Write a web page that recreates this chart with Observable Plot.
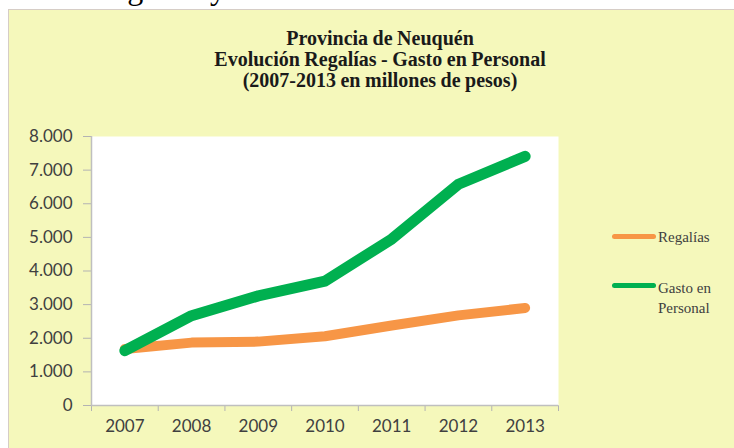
<!DOCTYPE html>
<html>
<head>
<meta charset="utf-8">
<script src="https://cdn.jsdelivr.net/npm/d3@7"></script>
<script src="https://cdn.jsdelivr.net/npm/@observablehq/plot@0.6"></script>
<style>
  html, body { margin: 0; padding: 0; background: #ffffff; width: 734px; height: 448px; overflow: hidden; position: relative; }
  #toptext { position: absolute; left: 10px; top: -28px; font: 32px "Liberation Serif", serif; line-height: 32px; color: #000; white-space: nowrap; }
  #panel { position: absolute; left: 8px; top: 9px; width: 760px; height: 480px; background: #f5f8bb; border: 1px solid #d6cdc6; box-sizing: border-box; }
  #title { position: absolute; left: 0; width: 760px; top: 28px; text-align: center; font: bold 20px "Liberation Serif", serif; line-height: 21px; color: #1a1a1a; word-spacing: -0.5px; }
  #chart { position: absolute; left: 0; top: 0; }
  #chart svg text { fill: #404040; }
  .leg { position: absolute; font: 15px "Liberation Serif", serif; color: #404040; line-height: 20px; }
  .legline { position: absolute; height: 5px; border-radius: 3px; width: 44px; }
</style>
</head>
<body>
<div id="toptext">de las Regalías y del Gasto en Personal en la Provincia</div>
<div id="panel"></div>
<div id="title">Provincia de Neuquén<br>Evolución Regalías - Gasto en Personal<br>(2007-2013 en millones de pesos)</div>
<div id="chart"></div>
<div class="legline" style="left:612px; top:234px; background:#f79646;"></div>
<div class="leg" style="left:658px; top:227px;">Regalías</div>
<div class="legline" style="left:612px; top:283px; background:#00b050;"></div>
<div class="leg" style="left:658px; top:278px;">Gasto en<br>Personal</div>
<script>
const years = [2007, 2008, 2009, 2010, 2011, 2012, 2013];
const regalias = [1680, 1870, 1900, 2060, 2380, 2680, 2900];
const gastoPersonal = [1630, 2670, 3260, 3700, 4950, 6580, 7410];
const yTicks = [0, 1000, 2000, 3000, 4000, 5000, 6000, 7000, 8000];
const seriesNames = ["Regalías", "Gasto en Personal"];
const seriesColors = ["#f79646", "#00b050"];

const boundaries = [years[0] - 0.5, ...years.map(y => y + 0.5)];
const regData = years.map((y, i) => ({year: y, value: regalias[i]}));
const gasData = years.map((y, i) => ({year: y, value: gastoPersonal[i]}));
const fmt = d => d === 0 ? "0" : d3.format(",")(d).replace(/,/g, ".");

const chart = Plot.plot({
  width: 734,
  height: 448,
  marginLeft: 91,
  marginRight: 176,
  marginTop: 136,
  marginBottom: 43,
  style: {fontFamily: "Lato, sans-serif", fontSize: "17px", color: "#b3b3b3", background: "transparent", overflow: "visible"},
  x: {type: "linear", domain: [boundaries[0], boundaries[boundaries.length - 1]], ticks: boundaries, tickFormat: () => "", tickSize: 6, label: null},
  y: {domain: [0, 8000], ticks: yTicks, tickFormat: fmt, tickSize: 8, tickPadding: 11, label: null},
  marks: [
    Plot.frame({fill: "white", stroke: null}),
    Plot.ruleX([boundaries[0]], {stroke: "#bfbfbf", strokeWidth: 1.5}),
    Plot.ruleY([0], {stroke: "#bfbfbf", strokeWidth: 1.5}),
    Plot.line(regData, {x: "year", y: "value", stroke: seriesColors[0], strokeWidth: 10, strokeLinecap: "round", strokeLinejoin: "round"}),
    Plot.line(gasData, {x: "year", y: "value", stroke: seriesColors[1], strokeWidth: 11, strokeLinecap: "round", strokeLinejoin: "round"}),
    Plot.text(years, {x: d => d, frameAnchor: "bottom", dy: 26, text: d => String(d), fill: "#404040"})
  ]
});
document.getElementById("chart").appendChild(chart);
</script>
</body>
</html>
